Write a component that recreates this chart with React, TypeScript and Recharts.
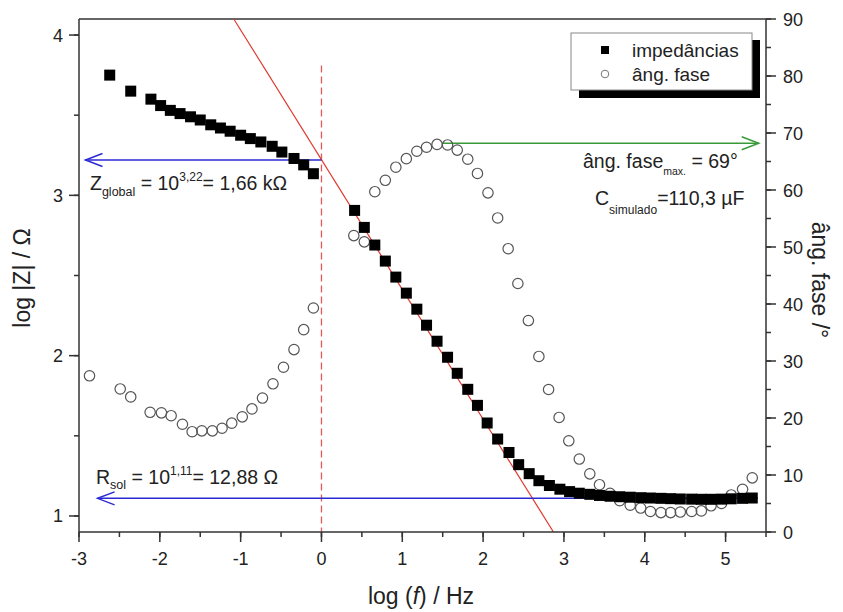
import { ScatterChart, Scatter, XAxis, YAxis, ReferenceLine, Customized } from "recharts";

// log(f) / Hz for the |Z| points and the log|Z| values
const zLogF = [
  -2.62, -2.36, -2.11, -1.99, -1.87, -1.75, -1.62, -1.5, -1.37, -1.25, -1.13, -1.0, -0.88, -0.75, -0.61, -0.49,
  -0.34, -0.22, -0.1, 0.41, 0.53, 0.66, 0.79, 0.92, 1.05, 1.18, 1.3, 1.43, 1.56, 1.68, 1.81, 1.93, 2.05, 2.18,
  2.32, 2.44, 2.57, 2.69, 2.82, 2.95, 3.07, 3.19, 3.32, 3.44, 3.57, 3.69, 3.82, 3.95, 4.07, 4.2, 4.32, 4.44,
  4.58, 4.7, 4.82, 4.95, 5.07, 5.21, 5.33,
];
const zLogMod = [
  3.75, 3.65, 3.6, 3.56, 3.53, 3.51, 3.49, 3.47, 3.44, 3.42, 3.4, 3.375, 3.354, 3.333, 3.306, 3.27, 3.23, 3.19,
  3.135, 2.906, 2.8, 2.69, 2.59, 2.49, 2.39, 2.29, 2.19, 2.09, 1.99, 1.89, 1.79, 1.69, 1.58, 1.48, 1.396, 1.32,
  1.264, 1.22, 1.19, 1.167, 1.152, 1.142, 1.135, 1.128, 1.123, 1.12, 1.117, 1.114, 1.112, 1.11, 1.108, 1.106,
  1.105, 1.104, 1.104, 1.105, 1.107, 1.11, 1.112,
];

// log(f) / Hz for the phase points and the phase angle in degrees
const phaseLogF = [
  -2.87, -2.49, -2.36, -2.12, -1.98, -1.86, -1.72, -1.6, -1.48, -1.35, -1.23, -1.11, -0.98, -0.86, -0.73, -0.6,
  -0.47, -0.34, -0.22, -0.1, 0.4, 0.53, 0.66, 0.79, 0.92, 1.05, 1.18, 1.3, 1.43, 1.56, 1.68, 1.81, 1.93, 2.06,
  2.18, 2.31, 2.43, 2.56, 2.69, 2.81, 2.94, 3.06, 3.19, 3.32, 3.44, 3.57, 3.69, 3.82, 3.95, 4.07, 4.2, 4.32,
  4.44, 4.58, 4.7, 4.82, 4.95, 5.07, 5.21, 5.33,
];
const phaseDeg = [
  27.4, 25.1, 23.7, 21.0, 20.9, 20.4, 18.9, 17.6, 17.75, 17.75, 18.2, 19.1, 20.2, 21.6, 23.5, 26.0, 28.9, 32.0,
  35.5, 39.3, 52.0, 50.9, 59.7, 61.7, 64.0, 65.5, 66.8, 67.5, 68.0, 67.9, 67.0, 65.4, 62.9, 59.5, 55.1, 49.7,
  43.6, 37.1, 30.8, 25.0, 20.1, 16.0, 12.8, 10.2, 8.3, 6.8, 5.5, 4.7, 4.2, 3.6, 3.4, 3.4, 3.5, 3.6, 3.7, 4.6,
  5.0, 6.5, 7.5, 9.5,
];

const xTicks = [-3, -2.5, -2, -1.5, -1, -0.5, 0, 0.5, 1, 1.5, 2, 2.5, 3, 3.5, 4, 4.5, 5, 5.5];
const zTicks = [1, 1.5, 2, 2.5, 3, 3.5, 4];
const phaseTicks = [0, 5, 10, 15, 20, 25, 30, 35, 40, 45, 50, 55, 60, 65, 70, 75, 80, 85, 90];

// annotation values
const zGlobal = 3.22;
const rSol = 1.11;
const phaseMax = 68.2;
const fitLine = [
  { x: -1.085, y: 4.1 },
  { x: 2.87, y: 0.9 },
];

const zData = zLogF.map((x, i) => ({ x, y: zLogMod[i] }));
const phaseData = phaseLogF.map((x, i) => ({ x, y: phaseDeg[i] }));

const FONT = "'Liberation Sans', Arial, sans-serif";
const AXIS = "#333";
const TXT = "#222";
const BLUE = "#2a2ad4";
const GREEN = "#3a9a3a";
const RED = "#e0392e";

const BottomTick = (props: any) => {
  const { x, y, payload } = props;
  const v = payload.value;
  if (!Number.isInteger(v)) return <g />;
  const ay = y - 9;
  return (
    <g>
      <line x1={x} x2={x} y1={ay} y2={ay + 10} stroke={AXIS} strokeWidth={1.5} />
      <text x={x} y={ay + 33} textAnchor="middle" fontSize={18} fontFamily={FONT} fill={TXT}>
        {`${v}`}
      </text>
    </g>
  );
};

const LeftTick = (props: any) => {
  const { x, y, payload } = props;
  const v = payload.value;
  if (!Number.isInteger(v)) return <g />;
  const ax = x + 9;
  return (
    <g>
      <line x1={ax} x2={ax - 10} y1={y} y2={y} stroke={AXIS} strokeWidth={1.5} />
      <text x={ax - 16} y={y + 6.5} textAnchor="end" fontSize={18} fontFamily={FONT} fill={TXT}>
        {`${v}`}
      </text>
    </g>
  );
};

const RightTick = (props: any) => {
  const { x, y, payload } = props;
  const v = payload.value;
  if (v % 10 !== 0) return <g />;
  const ax = x - 9;
  return (
    <g>
      <line x1={ax} x2={ax + 10} y1={y} y2={y} stroke={AXIS} strokeWidth={1.5} />
      <text x={ax + 17} y={y + 6.5} textAnchor="start" fontSize={18} fontFamily={FONT} fill={TXT}>
        {`${v}`}
      </text>
    </g>
  );
};

const arrowShape = (color: string, dir: "left" | "right") => (props: any) => {
  const { x1, y1, x2, y2 } = props;
  const tip = dir === "left" ? Math.min(x1, x2) : Math.max(x1, x2);
  const s = dir === "left" ? 1 : -1;
  return (
    <g>
      <line x1={x1} y1={y1} x2={x2} y2={y2} stroke={color} strokeWidth={1.5} />
      <polyline
        points={`${tip + s * 17},${y1 - 6.5} ${tip},${y1} ${tip + s * 17},${y1 + 6.5}`}
        fill="none"
        stroke={color}
        strokeWidth={1.5}
      />
    </g>
  );
};

const Square = (p: any) => <rect x={p.cx - 5.5} y={p.cy - 5.5} width={11} height={11} fill="#000" />;
const Ring = (p: any) => <circle cx={p.cx} cy={p.cy} r={5.2} fill="none" stroke="#555" strokeWidth={1.2} />;

const Decorations = () => (
  <g fontFamily={FONT} fill={TXT}>
    {/* axis titles */}
    <text x={421} y={604} textAnchor="middle" fontSize={23}>
      log (<tspan fontStyle="italic">f</tspan>) / Hz
    </text>
    <text transform="translate(30,278) rotate(-90)" textAnchor="middle" fontSize={23}>
      log |Z| / Ω
    </text>
    <text transform="translate(812,280) rotate(90)" textAnchor="middle" fontSize={23}>
      âng. fase /°
    </text>

    {/* annotations */}
    <text x={90} y={190} fontSize={19.5}>
      Z<tspan fontSize={12.5} dy={6}>global</tspan>
      <tspan dy={-6}> = 10</tspan>
      <tspan fontSize={12} dy={-9}>3,22</tspan>
      <tspan dy={9}>= 1,66 kΩ</tspan>
    </text>
    <text x={96} y={484} fontSize={19.5}>
      R<tspan fontSize={12.5} dy={5}>sol</tspan>
      <tspan dy={-5}> = 10</tspan>
      <tspan fontSize={12} dy={-9}>1,11</tspan>
      <tspan dy={9}>= 12,88 Ω</tspan>
    </text>
    <text x={583} y={168} fontSize={19.5}>
      âng. fase<tspan fontSize={10.5} dy={7}>max.</tspan>
      <tspan dy={-7}>{"  "}= 69°</tspan>
    </text>
    <text x={595} y={205} fontSize={19.5}>
      C<tspan fontSize={12} dy={9}>simulado</tspan>
      <tspan dy={-9}>=110,3 µF</tspan>
    </text>

    {/* legend */}
    <rect x={579} y={40} width={181} height={58} fill="#000" />
    <rect x={571} y={33} width={181} height={57} fill="#fff" stroke="#888" strokeWidth={1} />
    <rect x={601} y={46} width={8} height={8} fill="#000" />
    <text x={632} y={57} fontSize={19}>
      impedâncias
    </text>
    <circle cx={605} cy={74} r={3.8} fill="none" stroke="#777" strokeWidth={1} />
    <text x={632} y={81} fontSize={19}>
      âng. fase
    </text>
  </g>
);

export default function App() {
  return (
    <div style={{ position: "absolute", left: 0, top: 0, width: 843, height: 612, background: "#fff" }}>
      <ScatterChart width={843} height={612} margin={{ top: 19, right: 17, bottom: 20, left: 9 }}>
        <XAxis
          type="number"
          dataKey="x"
          domain={[-3, 5.5]}
          ticks={xTicks}
          interval={0}
          allowDataOverflow
          height={60}
          tickSize={5}
          tickMargin={4}
          tick={BottomTick}
          tickLine={{ stroke: AXIS, strokeWidth: 1.5 }}
          axisLine={{ stroke: AXIS, strokeWidth: 1.5 }}
        />
        <YAxis
          yAxisId="z"
          type="number"
          dataKey="y"
          domain={[0.9, 4.1]}
          ticks={zTicks}
          interval={0}
          allowDataOverflow
          width={70}
          tickSize={5}
          tickMargin={4}
          tick={LeftTick}
          tickLine={{ stroke: AXIS, strokeWidth: 1.5 }}
          axisLine={{ stroke: AXIS, strokeWidth: 1.5 }}
        />
        <YAxis
          yAxisId="phase"
          orientation="right"
          type="number"
          dataKey="y"
          domain={[0, 90]}
          ticks={phaseTicks}
          interval={0}
          allowDataOverflow
          width={60}
          tickSize={5}
          tickMargin={4}
          tick={RightTick}
          tickLine={{ stroke: AXIS, strokeWidth: 1.5 }}
          axisLine={{ stroke: AXIS, strokeWidth: 1.5 }}
        />
        {/* top frame */}
        <ReferenceLine yAxisId="z" y={4.1} stroke={AXIS} strokeWidth={1.5} ifOverflow="visible" />

        <ReferenceLine
          yAxisId="z"
          segment={[
            { x: 0, y: 3.81 },
            { x: 0, y: 0.9 },
          ]}
          stroke="#e45a5a"
          strokeWidth={1.3}
          strokeDasharray="7 4"
          ifOverflow="visible"
        />
        <ReferenceLine yAxisId="z" segment={fitLine} stroke={RED} strokeWidth={1.2} ifOverflow="visible" />

        <Scatter yAxisId="phase" data={phaseData} shape={Ring} isAnimationActive={false} />
        <Scatter yAxisId="z" data={zData} shape={Square} isAnimationActive={false} />

        <ReferenceLine
          yAxisId="z"
          segment={[
            { x: 0, y: zGlobal },
            { x: -2.92, y: zGlobal },
          ]}
          shape={arrowShape(BLUE, "left")}
          ifOverflow="visible"
        />
        <ReferenceLine
          yAxisId="z"
          segment={[
            { x: 5.4, y: rSol },
            { x: -2.77, y: rSol },
          ]}
          shape={arrowShape(BLUE, "left")}
          ifOverflow="visible"
        />
        <ReferenceLine
          yAxisId="phase"
          segment={[
            { x: 1.5, y: phaseMax },
            { x: 5.41, y: phaseMax },
          ]}
          shape={arrowShape(GREEN, "right")}
          ifOverflow="visible"
        />
        <Customized component={Decorations} />
      </ScatterChart>
    </div>
  );
}
